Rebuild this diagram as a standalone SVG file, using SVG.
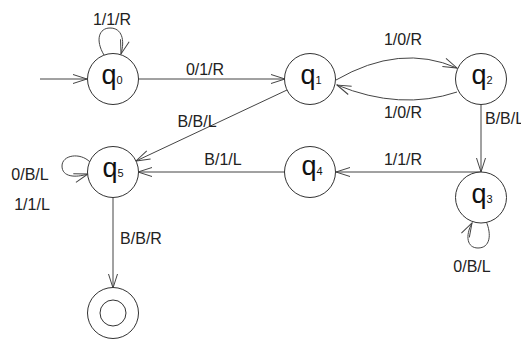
<svg xmlns="http://www.w3.org/2000/svg" width="521" height="339" viewBox="0 0 521 339">
<style>
.st{fill:#fff;stroke:#333;stroke-width:1}
.e{fill:none;stroke:#444;stroke-width:1;marker-end:url(#a)}
.n{fill:none;stroke:#444;stroke-width:1}
.q{font-family:"Liberation Sans",Arial,sans-serif;font-size:27px;fill:#111}
.s{font-size:11px}
.l{font-family:"Liberation Sans",Arial,sans-serif;font-size:16px;fill:#222}
</style>
<defs>
<marker id="a" markerWidth="16" markerHeight="12" refX="15" refY="6" orient="auto" markerUnits="userSpaceOnUse" viewBox="0 0 16 12">
<path d="M1,1.5 L15,6 L1,10.5" fill="none" stroke="#444" stroke-width="1"/>
</marker>
</defs>
<rect width="521" height="339" fill="#fff"/>
<g id="connectors">
<path class="e" d="M40,79 L87,79"/>
<path class="e" d="M104,55 C95,40 99,28 110,28 C122,28 125,40 121,54"/>
<path class="e" d="M139,79 L285,79"/>
<path class="e" d="M336,80 Q400,43 457,68"/>
<path class="e" d="M457,92 Q400,111 337,85"/>
<path class="e" d="M287,90 L136,161"/>
<path class="e" d="M285,172 L138,172"/>
<path class="e" d="M481,172 L336,172"/>
<path class="e" d="M481,104 L481,172"/>
<path class="e" d="M486,221 C492,235 490,248 478,248 C467,248 465,236 472,223"/>
<path class="e" d="M90,162 C80,152 62,155 62,166 C62,177 75,178 88,174"/>
<path class="e" d="M113,198 L113,288"/>
</g>
<g id="q0"><circle class="st" cx="113" cy="79" r="25.5"/><text class="q" x="112" y="84" text-anchor="middle">q<tspan class="s">0</tspan></text></g>
<g id="q1"><circle class="st" cx="310" cy="79" r="25.5"/><text class="q" x="311" y="84" text-anchor="middle">q<tspan class="s">1</tspan></text></g>
<g id="q2"><circle class="st" cx="481" cy="79" r="25.5"/><text class="q" x="482" y="84" text-anchor="middle">q<tspan class="s">2</tspan></text></g>
<g id="q3"><circle class="st" cx="481" cy="197.5" r="25.5"/><text class="q" x="482" y="203" text-anchor="middle">q<tspan class="s">3</tspan></text></g>
<g id="q4"><circle class="st" cx="310" cy="172" r="25.5"/><text class="q" x="312" y="175" text-anchor="middle">q<tspan class="s">4</tspan></text></g>
<g id="q5"><circle class="st" cx="113" cy="172" r="25.5"/><text class="q" x="113" y="177" text-anchor="middle">q<tspan class="s">5</tspan></text></g>
<g id="final"><circle class="st" cx="113" cy="313" r="25.5"/><circle class="st" cx="113" cy="313" r="13"/></g>
<g id="labels">
<text class="l" x="112" y="25" text-anchor="middle">1/1/R</text>
<text class="l" x="205" y="75" text-anchor="middle">0/1/R</text>
<text class="l" x="403" y="45" text-anchor="middle">1/0/R</text>
<text class="l" x="403" y="118" text-anchor="middle">1/0/R</text>
<text class="l" x="197" y="127" text-anchor="middle">B/B/L</text>
<text class="l" x="485" y="124">B/B/L</text>
<text class="l" x="223" y="165" text-anchor="middle">B/1/L</text>
<text class="l" x="403" y="165" text-anchor="middle">1/1/R</text>
<text class="l" x="30" y="180" text-anchor="middle">0/B/L</text>
<text class="l" x="32" y="210" text-anchor="middle">1/1/L</text>
<text class="l" x="141" y="244" text-anchor="middle">B/B/R</text>
<text class="l" x="472" y="272" text-anchor="middle">0/B/L</text>
</g>
</svg>
